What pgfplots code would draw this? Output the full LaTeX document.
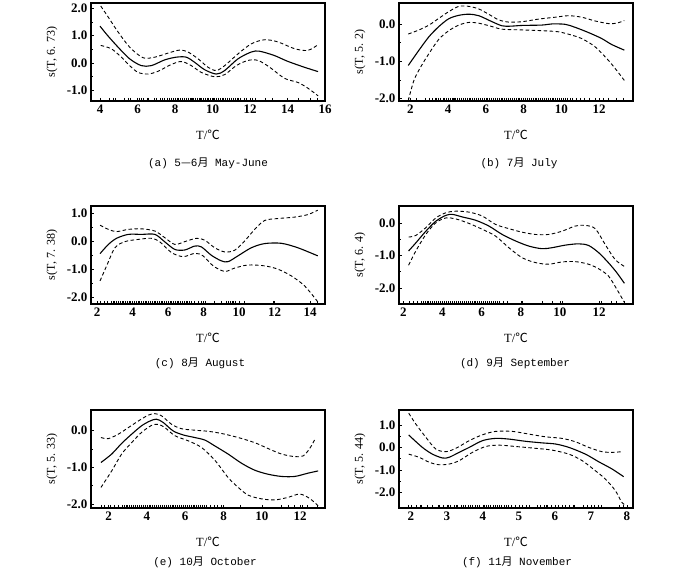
\documentclass[border=0pt]{standalone}
\usepackage{fontspec}
\setmainfont{Liberation Serif}
\newfontfamily\cjk{Noto Sans CJK SC}
\newfontfamily\mono{Liberation Mono}
\usepackage{pgfplots}
\pgfplotsset{compat=1.18}
\pgfplotsset{
  gam/.style={
    scale only axis, width=234pt, height=98pt,
    axis line style={line width=1.6pt},
    tick align=inside, xtick pos=bottom, ytick pos=left,
    minor y tick num=1,
    major tick length=3pt, minor tick length=2pt,
    tick style={black, line width=0.6pt},
    /pgf/number format/assume math mode=true,
    yticklabel style={/pgf/number format/.cd,fixed,fixed zerofill,precision=1,/tikz/.cd},
    ticklabel style={font=\bfseries\fontsize{13}{14}\selectfont},
    every axis x label/.style={at={(axis description cs:0.5,-0.35)}, anchor=center, font=\fontsize{12.5}{14}\selectfont},
    every axis y label/.style={at={(axis description cs:-0.167,0.5)}, rotate=90, anchor=center, font=\fontsize{12}{14}\selectfont},
    xlabel={T/{\cjk ℃}},
  },
  fit/.style={black, line width=1.1pt, smooth},
  band/.style={black, line width=0.9pt, dash pattern=on 3.5pt off 2.5pt, smooth},
  rug/.style={only marks, mark=|, mark size=1.6pt, mark options={yshift=1.6pt, line width=0.6pt}},
}
\newcommand{\subcap}[1]{{\mono\fontsize{11}{13}\selectfont #1}}
\begin{document}
\begin{tikzpicture}
\path[use as bounding box] (0,0) rectangle (700pt,568pt);
% (a)
\begin{axis}[gam, at={(91pt,467pt)}, anchor=south west,
  xmin=3.52, xmax=16, ymin=-1.4, ymax=2.2,
  xtick={4,6,8,10,12,14,16}, ytick={-1,0,1,2}, ylabel={s(T, 6. 73)}]
\addplot[fit] coordinates {(4.0,1.35)(4.4,1.01)(4.96,0.58)(5.58,0.15)(6.2,-0.10)(6.74,-0.10)(7.45,0.11)(8.07,0.21)(8.6,0.21)(9.05,0.02)(9.58,-0.25)(10.2,-0.41)(10.65,-0.28)(11.36,0.15)(12.07,0.40)(12.5,0.43)(13.3,0.27)(14.0,0.06)(14.9,-0.16)(15.63,-0.32)};
\addplot[band] coordinates {(4.04,2.09)(4.43,1.69)(4.96,1.14)(5.58,0.58)(6.29,0.19)(6.92,0.21)(7.63,0.36)(8.25,0.47)(8.69,0.40)(9.23,0.15)(9.76,-0.16)(10.2,-0.28)(10.65,-0.10)(11.36,0.33)(12.07,0.70)(12.78,0.85)(13.49,0.77)(14.38,0.52)(15.09,0.46)(15.63,0.67)};
\addplot[band] coordinates {(4.04,0.64)(4.6,0.52)(5.14,0.21)(5.58,-0.10)(6.03,-0.35)(6.56,-0.41)(7.09,-0.31)(7.8,-0.06)(8.34,0.05)(8.87,-0.10)(9.4,-0.35)(10.12,-0.51)(10.65,-0.43)(11.27,-0.10)(11.89,0.09)(12.43,0.09)(13.05,-0.16)(13.85,-0.57)(14.56,-0.72)(15.09,-0.93)(15.63,-1.21)};
\addplot[rug] table[x index=0, y expr=-1.4, header=false, row sep=\\] {4.0\\4.5\\4.7\\4.8\\5.3\\5.5\\5.6\\6.0\\6.1\\6.2\\6.3\\6.5\\6.6\\6.9\\7.0\\7.2\\7.3\\7.45\\7.6\\7.7\\7.8\\7.9\\8.0\\8.1\\8.2\\8.3\\8.4\\8.5\\8.6\\8.7\\8.8\\8.85\\8.9\\9.0\\9.1\\9.2\\9.3\\9.35\\9.4\\9.5\\9.6\\9.7\\9.8\\9.9\\10.0\\10.05\\10.1\\10.2\\10.3\\10.4\\10.5\\10.6\\10.7\\10.8\\10.9\\11.0\\11.1\\11.2\\11.3\\11.4\\11.5\\11.7\\11.8\\12.0\\12.1\\12.3\\12.8\\13.2\\14.0\\14.6\\15.2\\15.6\\};
\end{axis}
% (b)
\begin{axis}[gam, at={(399pt,467pt)}, anchor=south west,
  xmin=1.4, xmax=13.8, ymin=-2.06, ymax=0.56,
  xtick={2,4,6,8,10,12}, ytick={-2,-1,0}, ylabel={s(T, 5. 2)}]
\addplot[fit] coordinates {(1.89,-1.11)(2.46,-0.70)(2.99,-0.34)(3.51,-0.07)(4.04,0.14)(4.57,0.23)(5.1,0.26)(5.63,0.22)(6.33,0.06)(6.86,-0.05)(7.3,-0.06)(7.92,-0.04)(8.97,-0.03)(9.5,0.0)(10.2,-0.01)(10.73,-0.09)(11.44,-0.23)(12.14,-0.39)(12.67,-0.55)(13.34,-0.70)};
\addplot[band] coordinates {(1.89,-0.27)(2.46,-0.16)(2.99,-0.03)(3.51,0.15)(4.04,0.33)(4.57,0.47)(5.1,0.47)(5.63,0.40)(6.15,0.26)(6.68,0.11)(7.21,0.05)(7.92,0.06)(8.8,0.13)(9.68,0.18)(10.38,0.22)(11.08,0.18)(11.79,0.08)(12.49,0.01)(12.93,0.02)(13.34,0.09)};
\addplot[band] coordinates {(1.89,-2.05)(2.19,-1.51)(2.55,-1.15)(2.99,-0.79)(3.51,-0.41)(4.04,-0.18)(4.57,-0.03)(5.1,0.04)(5.63,0.02)(6.33,-0.07)(6.86,-0.14)(7.92,-0.16)(8.97,-0.18)(9.85,-0.21)(10.56,-0.30)(11.08,-0.39)(11.79,-0.61)(12.49,-0.97)(12.93,-1.24)(13.34,-1.51)};
\addplot[rug] table[x index=0, y expr=-2.06, header=false, row sep=\\] {1.9\\2.3\\2.8\\3.0\\3.15\\3.3\\3.4\\3.5\\3.6\\3.75\\3.8\\3.9\\4.0\\4.1\\4.2\\4.3\\4.35\\4.4\\4.5\\4.6\\4.7\\4.8\\4.9\\5.0\\5.1\\5.2\\5.3\\5.4\\5.5\\5.6\\5.7\\5.8\\5.9\\6.0\\6.1\\6.2\\6.3\\6.4\\6.5\\6.6\\6.7\\6.8\\6.9\\7.0\\7.1\\7.2\\7.3\\7.4\\7.5\\7.6\\7.7\\7.8\\7.9\\8.0\\8.1\\8.2\\8.3\\8.4\\8.5\\8.6\\8.7\\8.8\\8.9\\9.0\\9.1\\9.2\\9.3\\9.4\\9.5\\9.6\\9.7\\9.8\\9.9\\10.0\\10.1\\10.2\\10.3\\10.5\\10.6\\10.8\\11.0\\11.2\\11.5\\11.8\\12.2\\12.5\\12.9\\13.3\\};
\end{axis}
% (c)
\begin{axis}[gam, at={(91pt,264pt)}, anchor=south west,
  xmin=1.66, xmax=14.84, ymin=-2.25, ymax=1.27,
  xtick={2,4,6,8,10,12,14}, ytick={-2,-1,0,1}, ylabel={s(T, 7. 38)}]
\addplot[fit] coordinates {(2.17,-0.44)(2.64,-0.11)(3.1,0.11)(3.76,0.25)(4.51,0.25)(5.26,0.25)(5.82,-0.02)(6.38,-0.29)(6.94,-0.31)(7.5,-0.17)(7.88,-0.20)(8.44,-0.50)(9.0,-0.70)(9.38,-0.73)(9.94,-0.52)(10.69,-0.23)(11.44,-0.08)(12.38,-0.07)(13.31,-0.23)(14.43,-0.52)};
\addplot[band] coordinates {(2.17,0.58)(2.64,0.43)(3.1,0.35)(3.76,0.43)(4.51,0.45)(5.26,0.37)(5.82,0.13)(6.38,-0.11)(6.94,-0.01)(7.6,0.11)(8.07,0.04)(8.63,-0.23)(9.19,-0.38)(9.75,-0.32)(10.31,0.01)(10.88,0.43)(11.44,0.75)(12.19,0.82)(13.12,0.87)(13.87,0.96)(14.43,1.12)};
\addplot[band] coordinates {(2.17,-1.42)(2.54,-0.88)(3.01,-0.23)(3.57,-0.01)(4.32,0.07)(5.07,0.11)(5.54,-0.02)(6.19,-0.40)(6.85,-0.55)(7.51,-0.43)(7.97,-0.52)(8.54,-0.88)(9.19,-1.08)(9.75,-0.96)(10.5,-0.85)(11.44,-0.88)(12.19,-1.0)(12.94,-1.24)(13.69,-1.6)(14.43,-2.17)};
\addplot[rug] table[x index=0, y expr=-2.25, header=false, row sep=\\] {2.2\\2.4\\2.6\\2.8\\2.9\\3.0\\3.1\\3.2\\3.3\\3.4\\3.5\\3.6\\3.7\\3.8\\3.9\\4.0\\4.1\\4.2\\4.3\\4.4\\4.5\\4.6\\4.7\\4.8\\4.9\\5.0\\5.1\\5.2\\5.3\\5.4\\5.5\\5.6\\5.7\\5.8\\5.9\\6.0\\6.1\\6.2\\6.3\\6.4\\6.5\\6.6\\6.7\\6.8\\6.9\\7.0\\7.1\\7.2\\7.3\\7.5\\7.7\\7.9\\8.1\\8.6\\9.0\\9.3\\9.4\\9.5\\9.6\\9.7\\9.8\\10.0\\10.3\\11.9\\14.0\\14.4\\};
\end{axis}
% (d)
\begin{axis}[gam, at={(399pt,264pt)}, anchor=south west,
  xmin=1.78, xmax=13.73, ymin=-2.5, ymax=0.53,
  xtick={2,4,6,8,10,12}, ytick={-2,-1,0}, ylabel={s(T, 6. 4)}]
\addplot[fit] coordinates {(2.27,-0.86)(2.64,-0.61)(3.15,-0.25)(3.66,0.06)(4.17,0.24)(4.51,0.27)(5.02,0.19)(5.69,0.09)(6.37,-0.09)(7.05,-0.35)(7.73,-0.55)(8.41,-0.71)(9.08,-0.79)(9.59,-0.76)(10.27,-0.68)(10.95,-0.64)(11.46,-0.69)(11.97,-0.91)(12.47,-1.22)(12.9,-1.53)(13.29,-1.86)};
\addplot[band] coordinates {(2.27,-0.43)(2.64,-0.38)(3.15,-0.14)(3.66,0.16)(4.17,0.32)(4.68,0.37)(5.36,0.34)(6.03,0.22)(6.71,-0.04)(7.39,-0.17)(8.07,-0.28)(8.75,-0.35)(9.42,-0.35)(10.1,-0.25)(10.78,-0.09)(11.29,-0.07)(11.8,-0.17)(12.31,-0.66)(12.81,-1.12)(13.29,-1.34)};
\addplot[band] coordinates {(2.27,-1.30)(2.64,-0.86)(3.15,-0.35)(3.66,0.01)(4.17,0.16)(4.68,0.13)(5.36,-0.01)(6.03,-0.19)(6.71,-0.40)(7.39,-0.76)(8.07,-1.07)(8.75,-1.22)(9.42,-1.27)(10.1,-1.20)(10.78,-1.19)(11.46,-1.27)(11.97,-1.41)(12.47,-1.63)(12.9,-2.04)(13.29,-2.45)};
\addplot[rug] table[x index=0, y expr=-2.5, header=false, row sep=\\] {2.3\\2.5\\2.7\\2.9\\3.0\\3.1\\3.2\\3.3\\3.4\\3.5\\3.6\\3.7\\3.8\\3.9\\4.0\\4.1\\4.2\\4.3\\4.4\\4.5\\4.6\\4.7\\4.8\\4.9\\5.0\\5.1\\5.2\\5.3\\5.4\\5.5\\5.6\\5.7\\5.8\\5.9\\6.0\\6.1\\6.2\\6.3\\6.4\\6.5\\6.6\\6.7\\6.8\\6.9\\7.1\\7.3\\8.1\\9.1\\9.6\\10.1\\12.0\\12.1\\12.6\\12.9\\13.3\\};
\end{axis}
% (e)
\begin{axis}[gam, at={(91pt,60pt)}, anchor=south west,
  xmin=1.08, xmax=13.3, ymin=-2.11, ymax=0.56,
  xtick={2,4,6,8,10,12}, ytick={-2,-1,0}, ylabel={s(T, 5. 33)}]
\addplot[fit] coordinates {(1.6,-0.87)(2.16,-0.64)(2.68,-0.35)(3.2,-0.10)(3.72,0.13)(4.16,0.26)(4.5,0.31)(4.85,0.22)(5.37,-0.01)(5.9,-0.12)(6.5,-0.19)(7.03,-0.26)(7.55,-0.42)(8.24,-0.64)(8.94,-0.89)(9.63,-1.08)(10.33,-1.19)(11.03,-1.25)(11.72,-1.25)(12.42,-1.16)(12.94,-1.10)};
\addplot[band] coordinates {(1.6,-0.19)(1.98,-0.22)(2.5,-0.10)(3.03,0.08)(3.55,0.26)(4.07,0.42)(4.42,0.46)(4.77,0.40)(5.29,0.17)(5.81,0.05)(6.5,0.01)(7.2,-0.02)(7.9,-0.08)(8.77,-0.19)(9.63,-0.33)(10.33,-0.49)(11.03,-0.64)(11.72,-0.71)(12.16,-0.69)(12.5,-0.49)(12.77,-0.24)};
\addplot[band] coordinates {(1.6,-1.55)(2.16,-1.10)(2.68,-0.64)(3.2,-0.33)(3.72,-0.05)(4.24,0.14)(4.59,0.17)(4.94,0.08)(5.46,-0.14)(6.16,-0.28)(6.85,-0.46)(7.55,-0.81)(8.24,-1.28)(8.77,-1.55)(9.29,-1.76)(9.98,-1.86)(10.68,-1.89)(11.37,-1.82)(11.98,-1.73)(12.5,-1.85)(12.94,-2.05)};
\addplot[rug] table[x index=0, y expr=-2.11, header=false, row sep=\\] {1.6\\1.8\\2.0\\2.1\\2.3\\2.5\\2.7\\2.8\\2.9\\3.0\\3.1\\3.2\\3.3\\3.4\\3.5\\3.6\\3.7\\3.8\\3.9\\4.0\\4.1\\4.2\\4.3\\4.4\\4.5\\4.6\\4.7\\4.8\\4.9\\5.0\\5.1\\5.2\\5.3\\5.4\\5.5\\5.6\\5.7\\5.8\\5.9\\6.0\\6.1\\6.2\\6.3\\6.4\\6.5\\6.6\\6.7\\6.8\\6.9\\7.0\\7.1\\7.3\\7.5\\7.7\\7.9\\8.9\\10.0\\11.0\\11.4\\11.7\\12.1\\12.4\\12.9\\};
\end{axis}
% (f)
\begin{axis}[gam, at={(399pt,60pt)}, anchor=south west,
  xmin=1.67, xmax=8.17, ymin=-2.69, ymax=1.66,
  xtick={2,3,4,5,6,7,8}, ytick={-2,-1,0,1}, ylabel={s(T, 5. 44)}]
\addplot[fit] coordinates {(1.94,0.55)(2.32,0.0)(2.6,-0.30)(2.88,-0.47)(3.06,-0.44)(3.34,-0.22)(3.62,0.0)(3.99,0.30)(4.35,0.40)(4.72,0.37)(5.19,0.27)(5.65,0.20)(6.02,0.15)(6.39,0.0)(6.85,-0.30)(7.22,-0.64)(7.59,-0.96)(7.91,-1.30)};
\addplot[band] coordinates {(1.94,1.52)(2.14,1.03)(2.42,0.44)(2.69,-0.07)(2.97,-0.19)(3.25,-0.04)(3.62,0.30)(3.99,0.56)(4.35,0.71)(4.82,0.71)(5.28,0.59)(5.74,0.47)(6.2,0.40)(6.57,0.25)(6.94,0.0)(7.31,-0.19)(7.59,-0.22)(7.86,-0.19)};
\addplot[band] coordinates {(1.94,-0.30)(2.23,-0.44)(2.51,-0.66)(2.78,-0.77)(3.06,-0.74)(3.34,-0.59)(3.71,-0.22)(4.08,0.04)(4.45,0.10)(4.91,0.04)(5.46,-0.04)(5.92,-0.12)(6.39,-0.30)(6.76,-0.59)(7.12,-1.03)(7.4,-1.40)(7.68,-1.92)(7.86,-2.44)(7.96,-2.56)};
\addplot[rug] table[x index=0, y expr=-2.69, header=false, row sep=\\] {1.94\\2.0\\2.15\\2.25\\2.3\\2.45\\2.6\\2.75\\2.8\\2.9\\3.0\\3.05\\3.1\\3.2\\3.25\\3.3\\3.4\\3.45\\3.5\\3.6\\3.65\\3.7\\3.8\\3.85\\3.9\\4.0\\4.05\\4.1\\4.15\\4.2\\4.3\\4.35\\4.4\\4.45\\4.5\\4.6\\4.65\\4.7\\4.8\\4.9\\5.0\\5.1\\5.2\\5.3\\5.5\\5.6\\5.7\\5.75\\5.8\\5.9\\6.0\\6.1\\6.2\\6.3\\6.4\\6.5\\6.55\\6.8\\6.9\\7.0\\7.1\\7.2\\7.3\\7.8\\7.9\\};
\end{axis}
% captions
\node at (208pt,405pt) {\subcap{(a) 5{\cjk —}6{\cjk 月} May-June}};
\node at (519pt,405pt) {\subcap{(b) 7{\cjk 月} July}};
\node at (200pt,205pt) {\subcap{(c) 8{\cjk 月} August}};
\node at (515pt,205pt) {\subcap{(d) 9{\cjk 月} September}};
\node at (205pt,6pt) {\subcap{(e) 10{\cjk 月} October}};
\node at (517pt,6pt) {\subcap{(f) 11{\cjk 月} November}};
\end{tikzpicture}
\end{document}
